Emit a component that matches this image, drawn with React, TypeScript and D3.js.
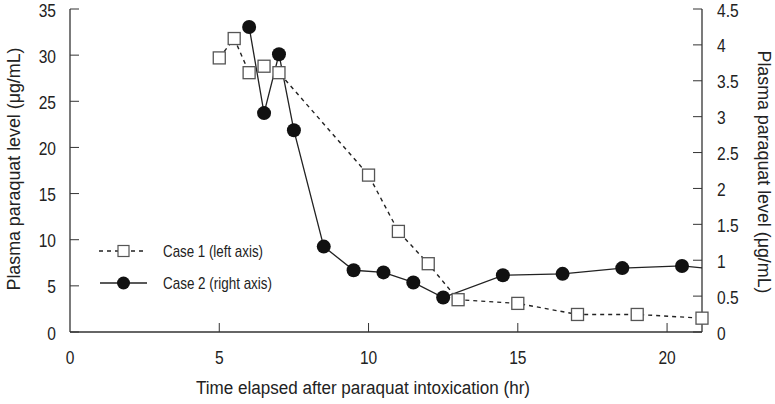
import React from "react";
import * as d3 from "d3";

const case1Hours = [5, 5.5, 6, 6.5, 7, 10, 11, 12, 13, 15, 17, 19, 21.17];
const case1Values = [29.7, 31.8, 28.1, 28.8, 28.1, 17.0, 10.9, 7.4, 3.5, 3.1, 1.9, 1.9, 1.5];

const case2Hours = [6, 6.5, 7, 7.5, 8.5, 9.5, 10.5, 11.5, 12.5, 14.5, 16.5, 18.5, 20.5, 22.5];
const case2Values = [4.25, 3.05, 3.87, 2.81, 1.19, 0.86, 0.83, 0.69, 0.48, 0.79, 0.81, 0.89, 0.92, 0.84];

const xTicks = [0, 5, 10, 15, 20];
const leftTicks = [0, 5, 10, 15, 20, 25, 30, 35];
const rightTicks = [0, 0.5, 1, 1.5, 2, 2.5, 3, 3.5, 4, 4.5];

const xTitle = "Time elapsed after paraquat intoxication (hr)";
const yTitle = "Plasma paraquat level (μg/mL)";
const legend1 = "Case 1 (left axis)";
const legend2 = "Case 2 (right axis)";

const W = 775;
const H = 404;
const FONT = "'Liberation Sans', Arial, sans-serif";
const SX = 0.82;

function CText(props: { x: number; y: number; anchor?: string; size: number; children: React.ReactNode }) {
  return (
    <text transform={`translate(${props.x},${props.y}) scale(${SX},1)`} textAnchor={props.anchor || "start"} fontSize={props.size} fill="#222">
      {props.children}
    </text>
  );
}

export default function App() {
  const left = 70, right = 702, top = 9, bottom = 332;
  const x = d3.scaleLinear().domain([0, 21.17]).range([left, right]);
  const yL = d3.scaleLinear().domain([0, 35]).range([bottom, top]);
  const yR = d3.scaleLinear().domain([0, 4.5]).range([bottom, top]);
  const axisColor = "#333";
  const tickLen = 9;

  const c1 = case1Hours.map((h, i) => [h, case1Values[i]] as [number, number]);
  const c2 = case2Hours.map((h, i) => [h, case2Values[i]] as [number, number]);
  const line1 = d3.line<[number, number]>().x(d => x(d[0])).y(d => yL(d[1]));
  const line2 = d3.line<[number, number]>().x(d => x(d[0])).y(d => yR(d[1]));
  const sq = 12;

  return (
    <svg width={W} height={H} style={{ position: "absolute", left: 0, top: 0, display: "block", background: "#fff" }} fontFamily={FONT}>
      <defs>
        <clipPath id="plot">
          <rect x={left} y={0} width={right - left} height={H} />
        </clipPath>
      </defs>
      {/* axes */}
      <line x1={left} x2={right} y1={bottom} y2={bottom} stroke={axisColor} strokeWidth={1.3} />
      <line x1={left} x2={left} y1={top} y2={bottom} stroke={axisColor} strokeWidth={1.3} />
      <line x1={right} x2={right} y1={top} y2={bottom} stroke={axisColor} strokeWidth={1.3} />
      {xTicks.map(t => (
        <g key={"x" + t}>
          {t > 0 && <line x1={x(t)} x2={x(t)} y1={bottom} y2={bottom - tickLen} stroke={axisColor} strokeWidth={1} />}
          <CText x={x(t)} y={364} anchor="middle" size={19}>{t}</CText>
        </g>
      ))}
      {leftTicks.map(t => (
        <g key={"l" + t}>
          <line x1={left} x2={left + tickLen} y1={yL(t)} y2={yL(t)} stroke={axisColor} strokeWidth={1} />
          <CText x={56} y={yL(t) + 7.5} anchor="end" size={19}>{t}</CText>
        </g>
      ))}
      {rightTicks.map(t => (
        <g key={"r" + t}>
          <line x1={right} x2={right - tickLen} y1={yR(t)} y2={yR(t)} stroke={axisColor} strokeWidth={1} />
          <CText x={717} y={yR(t) + 7.5} anchor="start" size={19}>{t}</CText>
        </g>
      ))}
      <text x={363} y={394} textAnchor="middle" fontSize={18} fill="#222" textLength={334} lengthAdjust="spacingAndGlyphs">{xTitle}</text>
      <text transform={`translate(20,169) rotate(-90)`} textAnchor="middle" fontSize={18} fill="#222" textLength={243} lengthAdjust="spacingAndGlyphs">{yTitle}</text>
      <text transform={`translate(758,172) rotate(90)`} textAnchor="middle" fontSize={18} fill="#222" textLength={243} lengthAdjust="spacingAndGlyphs">{yTitle}</text>

      {/* series lines */}
      <g clipPath="url(#plot)">
        <path d={line1(c1) || ""} fill="none" stroke="#222" strokeWidth={1.4} strokeDasharray="4,4" />
        <path d={line2(c2) || ""} fill="none" stroke="#222" strokeWidth={1.3} />
      </g>
      {c1.map((d, i) => (
        <rect key={"s" + i} x={x(d[0]) - sq / 2} y={yL(d[1]) - sq / 2} width={sq} height={sq} fill="#fff" stroke="#555" strokeWidth={1.3} />
      ))}
      {c2.filter(d => d[0] <= 21.17).map((d, i) => (
        <circle key={"c" + i} cx={x(d[0])} cy={yR(d[1])} r={7} fill="#111" />
      ))}

      {/* legend */}
      <g>
        <line x1={99} x2={147} y1={251} y2={251} stroke="#222" strokeWidth={1.4} strokeDasharray="4,4" />
        <rect x={123.5 - 5.5} y={251 - 5.5} width={11} height={11} fill="#fff" stroke="#555" strokeWidth={1.2} />
        <text x={163} y={257} fontSize={17} fill="#222" textLength={100} lengthAdjust="spacingAndGlyphs">{legend1}</text>
        <line x1={100} x2={147} y1={283} y2={283} stroke="#222" strokeWidth={1.3} />
        <circle cx={123.5} cy={283} r={6.5} fill="#111" />
        <text x={163} y={289} fontSize={17} fill="#222" textLength={109} lengthAdjust="spacingAndGlyphs">{legend2}</text>
      </g>
    </svg>
  );
}
